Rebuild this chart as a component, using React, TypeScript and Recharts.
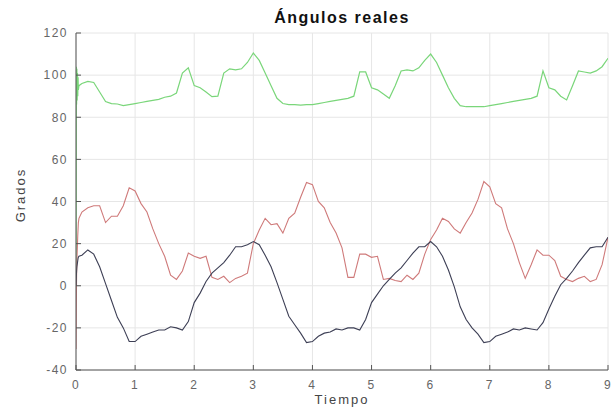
import React from 'react';
import { LineChart, Line, XAxis, YAxis, CartesianGrid } from 'recharts';

// arranque (transitorio rápido cerca de t = 0)
const tInicio = [0, 0.005, 0.01, 0.015, 0.02, 0.025, 0.03, 0.035, 0.04, 0.05];
const verdeInicio = [0, 104, 86, 103, 88, 101, 90, 99, 93, 95];
const rojoInicio = [-30, -10, 5, 12, 16, 20, 24, 27, 30, 32];
const oscuroInicio = [0, 4, 7, 9, 10, 11, 12, 13, 13.5, 14];

const tiempo = [
  0.1, 0.2, 0.3, 0.4, 0.5, 0.6, 0.7, 0.8, 0.9, 1.0,
  1.1, 1.2, 1.3, 1.4, 1.5, 1.6, 1.7, 1.8, 1.9, 2.0,
  2.1, 2.2, 2.3, 2.4, 2.5, 2.6, 2.7, 2.8, 2.9, 3.0,
  3.1, 3.2, 3.3, 3.4, 3.5, 3.6, 3.7, 3.8, 3.9, 4.0,
  4.1, 4.2, 4.3, 4.4, 4.5, 4.6, 4.7, 4.8, 4.9, 5.0,
  5.1, 5.2, 5.3, 5.4, 5.5, 5.6, 5.7, 5.8, 5.9, 6.0,
  6.1, 6.2, 6.3, 6.4, 6.5, 6.6, 6.7, 6.8, 6.9, 7.0,
  7.1, 7.2, 7.3, 7.4, 7.5, 7.6, 7.7, 7.8, 7.9, 8.0,
  8.1, 8.2, 8.3, 8.4, 8.5, 8.6, 8.7, 8.8, 8.9, 9.0,
];

const verde = [
  96, 97, 96.5, 92, 87.5, 86.5, 86.3, 85.5, 86, 86.5,
  87, 87.5, 88, 88.5, 89.5, 90, 91.5, 101, 103.5, 95,
  94, 92, 89.8, 90, 101, 103, 102.5, 103, 106, 110.5,
  107, 101, 95, 89, 86.5, 86, 86, 85.8, 86, 86,
  86.5, 87, 87.5, 88, 88.5, 89, 90, 101.5, 101.5, 94,
  93, 91, 89, 95, 102, 102.5, 102, 103.5, 107, 110,
  106, 100, 94, 89, 85.5, 85, 85, 85, 85, 85.5,
  86, 86.5, 87, 87.5, 88, 88.5, 89, 90, 102, 94,
  93, 90, 88.2, 95, 102, 101.5, 101, 102, 104, 108,
];

const rojo = [
  35, 37, 38, 38, 30, 33, 33, 38, 46.5, 45,
  39, 35, 27, 20, 14, 5, 3, 7, 15.5, 14,
  13, 14, 4, 3, 4.5, 1.5, 3.5, 4.5, 6, 20,
  26.5, 32, 29, 29.5, 25, 32, 34.5, 42, 49, 48,
  40, 37, 30, 25, 18, 4, 4, 15, 15, 13.5,
  14, 3, 3.5, 2.5, 2, 5, 3, 6, 15, 22,
  26.5, 32, 30.5, 27, 25, 30, 34.5, 41, 49.5, 47,
  39, 37, 27, 20, 11, 3.5, 10, 17, 14.5, 14.5,
  12, 4.5, 3, 2, 3.5, 4.5, 2, 3, 10, 23,
];

const oscuro = [
  14.5, 17, 15, 9, 1, -7, -15, -20, -26.5, -26.5,
  -24, -23, -22, -21, -21, -19.5, -20, -21, -17, -8,
  -3.5, 2, 6, 8.5, 11, 14.5, 18.5, 18.5, 19.5, 21,
  19.5, 14.5, 9, 1.5, -6.5, -14.5, -18.5, -22.5, -27, -26.5,
  -24, -22.5, -22, -20.5, -21, -20, -20, -21, -16, -8,
  -4, 0, 3, 6, 8.5, 12, 15.5, 18.5, 18.5, 21,
  18.5, 14, 7.5, -0.5, -10, -16, -20, -23, -27, -26.5,
  -24, -23, -22, -20.5, -21, -20, -20.5, -21, -17.5, -11,
  -5, 0.5, 3.5, 7, 11, 14.5, 18, 18.5, 18.5, 23,
];

const xTicks = [0, 1, 2, 3, 4, 5, 6, 7, 8, 9];
const yTicks = [-40, -20, 0, 20, 40, 60, 80, 100, 120];

const serie = (inicio: number[], valores: number[]) => [
  ...tInicio.map((t, i) => ({ t, v: inicio[i] })),
  ...tiempo.map((t, i) => ({ t, v: valores[i] })),
];

const datosVerde = serie(verdeInicio, verde);
const datosRojo = serie(rojoInicio, rojo);
const datosOscuro = serie(oscuroInicio, oscuro);

const font = '"Liberation Sans", Arial, sans-serif';
const axisColor = '#555';
const tickStyle = { fill: '#666', fontSize: 12, fontFamily: font, letterSpacing: 1.5 };

export default function App() {
  return (
    <div style={{ position: 'fixed', left: 0, top: 0, width: 616, height: 409, background: '#fff', fontFamily: font }}>
      <LineChart width={616} height={409} margin={{ top: 33, right: 8, bottom: 0, left: 36 }}>
        <CartesianGrid stroke="#e6e6e6" xAxisId="x" yAxisId="y" />
        <XAxis
          xAxisId="x"
          dataKey="t"
          type="number"
          domain={[0, 9]}
          ticks={xTicks}
          allowDataOverflow
          height={39}
          stroke={axisColor}
          tickSize={-5}
          tickMargin={15}
          tick={tickStyle}
        />
        <XAxis xAxisId="top" orientation="top" type="number" domain={[0, 9]} ticks={xTicks} height={0} stroke={axisColor} tickSize={-5} tickFormatter={() => ''} />
        <YAxis
          yAxisId="y"
          type="number"
          domain={[-40, 120]}
          ticks={yTicks}
          allowDataOverflow
          width={40}
          stroke={axisColor}
          tickSize={-5}
          tickMargin={13}
          tick={tickStyle}
        />
        <YAxis yAxisId="right" orientation="right" type="number" domain={[-40, 120]} ticks={yTicks} width={0} stroke={axisColor} tickSize={-5} tickFormatter={() => ''} />
        <Line xAxisId="x" yAxisId="y" data={datosVerde} dataKey="v" type="linear" stroke="#7ad67a" strokeWidth={1.2} dot={false} isAnimationActive={false} />
        <Line xAxisId="x" yAxisId="y" data={datosRojo} dataKey="v" type="linear" stroke="#cf7a7a" strokeWidth={1.1} dot={false} isAnimationActive={false} />
        <Line xAxisId="x" yAxisId="y" data={datosOscuro} dataKey="v" type="linear" stroke="#3d3f55" strokeWidth={1.1} dot={false} isAnimationActive={false} />
      </LineChart>
      <div style={{ position: 'absolute', left: 76, width: 532, top: 9, textAlign: 'center', fontSize: 16, lineHeight: '18px', fontWeight: 'bold', letterSpacing: 1.5, color: '#111' }}>
        Ángulos reales
      </div>
      <div style={{ position: 'absolute', left: 76, width: 532, top: 392, textAlign: 'center', fontSize: 13, lineHeight: '15px', letterSpacing: 2, color: '#444' }}>
        Tiempo
      </div>
      <div style={{ position: 'absolute', left: 21, top: 195, width: 0, height: 0 }}>
        <div style={{ position: 'absolute', left: -40, top: -8, width: 80, textAlign: 'center', fontSize: 13, lineHeight: '16px', letterSpacing: 2, color: '#444', transform: 'rotate(-90deg)' }}>
          Grados
        </div>
      </div>
    </div>
  );
}
